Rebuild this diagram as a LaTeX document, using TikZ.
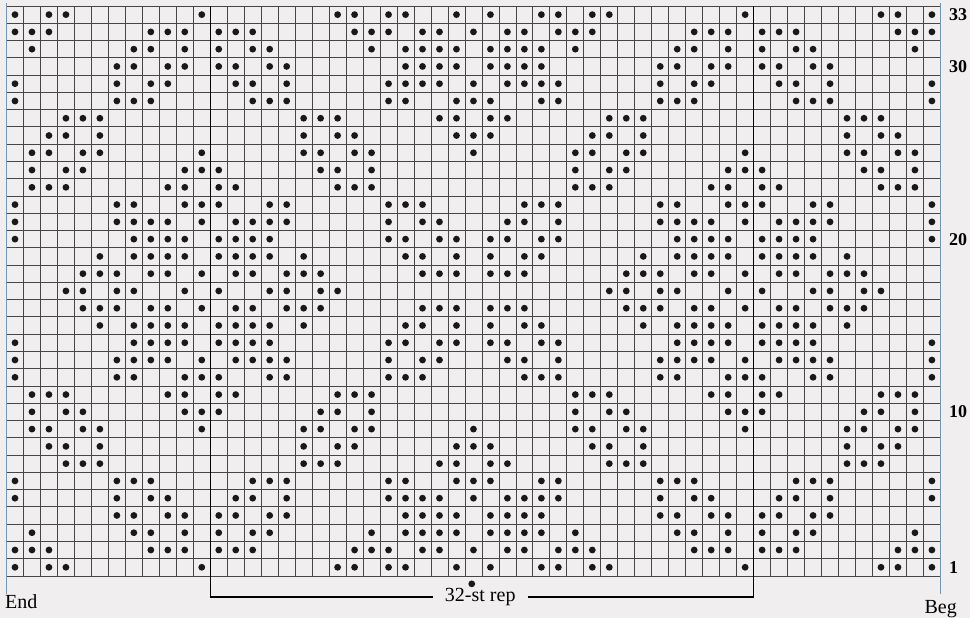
\documentclass[tikz,border=0pt]{standalone}
\usepackage{fontspec}
\setmainfont{Liberation Serif}
\usepackage{tikz}
\usetikzlibrary{positioning}
\definecolor{paper}{RGB}{241,238,240}
\definecolor{edgeblue}{RGB}{90,158,215}
\definecolor{gridgray}{RGB}{70,70,70}

\begin{document}
\begin{tikzpicture}[
  x=16.98pt, y=17.27pt,
  gridline/.style={draw=gridgray, line width=0.8pt},
  repline/.style={draw=black, line width=1.5pt},
  edgeline/.style={draw=edgeblue, line width=1.8pt},
  purldot/.style={fill=black!90},
  rownum/.style={anchor=west, inner sep=0pt, font=\fontsize{18}{18}\selectfont\bfseries},
  lbl/.style={inner sep=0pt, font=\fontsize{20}{20}\selectfont},
]
\fill[paper] (-0.383,-2.432) rectangle (56.743,33.347);
\useasboundingbox (-0.383,-2.432) rectangle (56.743,33.347);
% chart grid, 55 sts x 33 rows
\foreach \i in {0,...,55} \draw[gridline] (\i,0) -- (\i,33);
\foreach \j in {0,...,33} \draw[gridline] (0,\j) -- (55,\j);
% purl dots: sts 0-27 of rows 17-33, chart is mirrored both ways
\foreach \r/\cols in {
  33/{0,2,3,11,19,20,22,23,26},
  32/{0,1,2,8,9,10,12,13,14,20,21,22,24,25,27},
  31/{1,7,8,10,12,14,15,21,23,24,25,26},
  30/{6,7,9,10,12,13,15,16,23,24,25,26},
  29/{0,6,8,9,13,14,16,22,23,24,25,27},
  28/{0,6,7,8,14,15,16,22,23,26,27},
  27/{3,4,5,17,18,19,25,26},
  26/{2,3,5,17,19,20,26,27},
  25/{1,2,4,5,11,17,18,20,21,27},
  24/{1,3,4,10,11,12,18,19,21},
  23/{1,2,3,9,10,12,13,19,20,21},
  22/{0,6,7,10,11,12,15,16,22,23,24},
  21/{0,6,7,8,9,11,13,14,15,16,22,24,25},
  20/{0,7,8,9,10,12,13,14,15,22,23,25,26},
  19/{5,7,8,9,10,12,13,14,15,17,23,24,26},
  18/{4,5,6,8,9,11,13,14,16,17,18,24,25,26},
  17/{3,4,6,7,10,12,15,16,18,19}} {
  \foreach \c in \cols {
    \fill[purldot] (\c+0.5,\r-0.5) circle (3.4pt) (54.5-\c,\r-0.5) circle (3.4pt)
      (\c+0.5,33.5-\r) circle (3.4pt) (54.5-\c,33.5-\r) circle (3.4pt);
  }
}
% side lines
\draw[edgeline] (0,33.15) -- (0,-1.04);
\draw[edgeline] (55,33.15) -- (55,-1.04);
% repeat bracket
\coordinate (repL) at (12,33);
\coordinate (repR) at (44,33);
\node[lbl, inner xsep=12pt] (rep) at (27.9,-1.216) {32-st rep};
\draw[repline] (repL) |- (rep.west);
\draw[repline] (rep.east) -| (repR);
\fill[purldot] (27.4,-0.46) circle (3.4pt);
\node[lbl, anchor=base west] (endlbl) at (-0.09,-1.91) {End};
\node[lbl, anchor=base] (beglbl) at (55.02,-2.2) {Beg};
% row numbers
\node[rownum] (r33) at (55.5,32.5) {33};
\node[rownum] (r30) at (55.5,29.5) {30};
\node[rownum] (r20) at (55.5,19.5) {20};
\node[rownum] (r10) at (55.5,9.5) {10};
\node[rownum] (r1) at (55.5,0.5) {1};
\end{tikzpicture}
\end{document}
